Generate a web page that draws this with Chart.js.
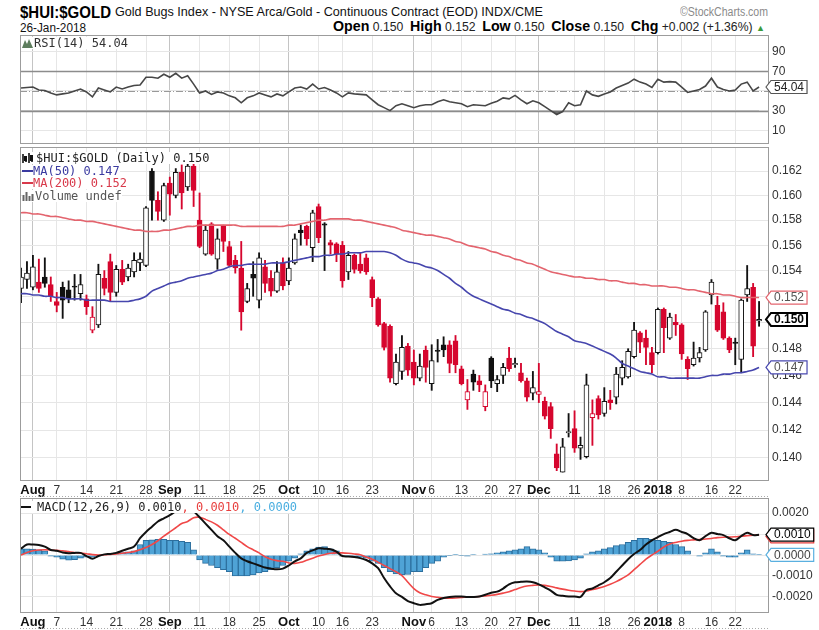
<!DOCTYPE html>
<html><head><meta charset="utf-8">
<script src="https://cdn.jsdelivr.net/npm/chart.js@4.4.1/dist/chart.umd.min.js"></script>
<style>
html,body{margin:0;padding:0;background:#fff;}
body{width:819px;height:630px;position:relative;overflow:hidden;font-family:"Liberation Sans",Arial,sans-serif;}
.a{position:absolute;white-space:nowrap;line-height:1;}
.fit{transform-origin:0 0;}
.mono{font-family:"DejaVu Sans Mono",monospace;font-size:12px;background:#fff;}
canvas{position:absolute;left:0;}
</style></head><body>
<script>
// ---------------- DATA ----------------
const tradingDays = [
 ['2017-07',[28,31]],
 ['2017-08',[1,2,3,4,7,8,9,10,11,14,15,16,17,18,21,22,23,24,25,28,29,30,31]],
 ['2017-09',[1,5,6,7,8,11,12,13,14,15,18,19,20,21,22,25,26,27,28,29]],
 ['2017-10',[2,3,4,5,6,10,11,12,13,16,17,18,19,20,23,24,25,26,27,30,31]],
 ['2017-11',[1,2,3,6,7,8,9,10,13,14,15,16,17,20,21,22,24,27,28,29,30]],
 ['2017-12',[1,4,5,6,7,8,11,12,13,14,15,18,19,20,21,22,26,27,28,29]],
 ['2018-01',[2,3,4,5,8,9,10,11,12,16,17,18,19,22,23,24,25,26]]
];
const dates = tradingDays.flatMap(([m, ds]) => ds.map(d => m + '-' + String(d).padStart(2, '0')));

const xTickDates = ['2017-08-01','2017-08-07','2017-08-14','2017-08-21','2017-08-28','2017-09-01','2017-09-11','2017-09-18','2017-09-25','2017-10-02','2017-10-10','2017-10-16','2017-10-23','2017-11-01','2017-11-06','2017-11-13','2017-11-20','2017-11-27','2017-12-01','2017-12-11','2017-12-18','2017-12-26','2018-01-02','2018-01-08','2018-01-16','2018-01-22'];
const xTickLabels = ['Aug','7','14','21','28','Sep','11','18','25','Oct','10','16','23','Nov','6','13','20','27','Dec','11','18','26','2018','8','16','22'];
const xTickMonth = [1,0,0,0,0,1,0,0,0,1,0,0,0,1,0,0,0,0,1,0,0,0,1,0,0,0];

const open = [.1526,.1533,.1527,.1531,.1535,.1529,.1516,.1527,.1525,.1528,
 .1522,.1518,.1494,.1498,.1534,.1547,.1523,.1541,.1535,.1539,
 .1546,.1544,.1620,.1596,.1580,.1610,.1600,.1619,.1607,.1624,
 .1580,.1553,.1577,.1549,.1575,.1559,.1548,.1542,.1516,.1537,
 .1517,.1543,.1534,.1524,.1546,.1532,.1546,.1572,.1575,.1558,
 .1591,.1577,.1562,.1561,.1560,.1539,.1552,.1545,.1550,.1533,
 .1518,.1499,.1497,.1454,.1463,.1482,.1470,.1458,.1479,.1454,
 .1479,.1483,.1483,.1486,.1465,.1442,.1461,.1456,.1437,.1473,
 .1454,.1460,.1473,.1468,.1462,.1456,.1447,.1446,.1441,.1437,
 .1403,.1390,.1418,.1421,.1407,.1401,.1429,.1443,.1432,.1442,
 .1444,.1458,.1459,.1474,.1492,.1488,.1477,.1477,.1510,.1488,
 .1500,.1498,.1472,.1468,.1473,.1479,.1521,.1513,.1508,.1488,
 .1485,.1472,.1521,.1527,.1501];
const high = [.1542,.1547,.1552,.1549,.1550,.1535,.1523,.1531,.1532,.1537,
 .1537,.1521,.1512,.1545,.1540,.1553,.1544,.1548,.1545,.1554,
 .1554,.1591,.1622,.1603,.1610,.1615,.1622,.1625,.1626,.1627,
 .1602,.1576,.1578,.1573,.1576,.1563,.1552,.1563,.1530,.1547,
 .1554,.1548,.1540,.1547,.1550,.1550,.1569,.1576,.1576,.1588,
 .1593,.1578,.1564,.1562,.1563,.1555,.1553,.1554,.1553,.1535,
 .1519,.1500,.1498,.1476,.1490,.1484,.1479,.1476,.1482,.1483,
 .1487,.1489,.1486,.1490,.1467,.1457,.1464,.1460,.1453,.1474,
 .1460,.1469,.1481,.1473,.1469,.1458,.1463,.1469,.1444,.1440,
 .1410,.1414,.1432,.1434,.1415,.1461,.1442,.1445,.1451,.1449,
 .1466,.1471,.1480,.1500,.1493,.1494,.1481,.1511,.1511,.1507,
 .1506,.1499,.1474,.1485,.1481,.1509,.1533,.1520,.1515,.1489,
 .1488,.1518,.1544,.1530,.1516];
const low = [.1515,.1526,.1525,.1523,.1527,.1516,.1508,.1503,.1515,.1517,
 .1517,.1506,.1492,.1496,.1521,.1516,.1520,.1529,.1532,.1535,
 .1540,.1543,.1580,.1580,.1579,.1584,.1598,.1589,.1604,.1591,
 .1558,.1552,.1552,.1541,.1555,.1543,.1538,.1494,.1515,.1520,
 .1511,.1523,.1520,.1523,.1525,.1529,.1545,.1560,.1560,.1547,
 .1562,.1540,.1553,.1547,.1527,.1533,.1538,.1538,.1537,.1512,
 .1497,.1479,.1455,.1453,.1457,.1460,.1453,.1456,.1455,.1449,
 .1470,.1474,.1462,.1462,.1453,.1435,.1449,.1448,.1434,.1451,
 .1448,.1454,.1463,.1466,.1455,.1441,.1442,.1440,.1428,.1414,
 .1391,.1390,.1415,.1404,.1399,.1400,.1409,.1428,.1430,.1435,
 .1439,.1453,.1458,.1473,.1477,.1468,.1462,.1476,.1477,.1487,
 .1490,.1472,.1457,.1467,.1470,.1478,.1514,.1493,.1487,.1477,
 .1468,.1462,.1516,.1474,.1497];
const close = [.1535,.1538,.1543,.1526,.1530,.1520,.1513,.1517,.1518,.1527,
 .1529,.1512,.1504,.1537,.1526,.1523,.1541,.1531,.1542,.1548,
 .1549,.1590,.1596,.1587,.1608,.1601,.1619,.1602,.1624,.1604,
 .1559,.1572,.1553,.1565,.1563,.1544,.1542,.1508,.1526,.1534,
 .1550,.1530,.1524,.1539,.1528,.1542,.1565,.1570,.1565,.1586,
 .1566,.1576,.1560,.1553,.1532,.1552,.1541,.1540,.1539,.1519,
 .1498,.1481,.1458,.1470,.1481,.1464,.1458,.1467,.1466,.1471,
 .1478,.1479,.1469,.1468,.1454,.1448,.1455,.1453,.1448,.1456,
 .1457,.1466,.1465,.1469,.1456,.1444,.1451,.1448,.1430,.1421,
 .1393,.1408,.1419,.1407,.1409,.1453,.1432,.1431,.1441,.1440,
 .1461,.1466,.1478,.1494,.1485,.1481,.1468,.1510,.1496,.1504,
 .1498,.1476,.1465,.1473,.1477,.1508,.1531,.1494,.1488,.1479,
 .1484,.1517,.1526,.1482,.15022];
const ma50 = [.1522,.1522,.1521,.1521,.1520,.1520,.1519,.1519,.1518,.1518,
 .1518,.1517,.1517,.1517,.1517,.1516,.1516,.1516,.1516,.1517,
 .1518,.1520,.1524,.1526,.1528,.1530,.1531,.1532,.1534,.1535,
 .1536,.1537,.1538,.1540,.1541,.1543,.1544,.1544,.1545,.1545,
 .1545,.1545,.1546,.1546,.1546,.1547,.1548,.1549,.1550,.1551,
 .1551,.1552,.1552,.1553,.1553,.1554,.1554,.1554,.1555,.1555,
 .1555,.1555,.1554,.1552,.1549,.1547,.1546,.1545,.1543,.1542,
 .1540,.1537,.1534,.1530,.1527,.1523,.1520,.1518,.1516,.1514,
 .1512,.1510,.1509,.1507,.1506,.1504,.1503,.1501,.1499,.1496,
 .1493,.1491,.1489,.1486,.1485,.1484,.1482,.1480,.1478,.1476,
 .1473,.1469,.1467,.1465,.1463,.1462,.1461,.1459,.1459,.1458,
 .1458,.1458,.1458,.1458,.1458,.1459,.1460,.1460,.1461,.1461,
 .1462,.1462,.1463,.1464,.1466];
const ma200 = [.1586,.1586,.1585,.1585,.1584,.1583,.1583,.1582,.1581,.1580,
 .1580,.1579,.1579,.1578,.1577,.1576,.1575,.1574,.1573,.1572,
 .1572,.1571,.1571,.1571,.1572,.1572,.1573,.1574,.1575,.1575,
 .1576,.1576,.1576,.1576,.1576,.1576,.1576,.1575,.1575,.1575,
 .1575,.1575,.1575,.1575,.1575,.1576,.1576,.1577,.1578,.1579,
 .1580,.1580,.1581,.1581,.1581,.1581,.1580,.1580,.1579,.1578,
 .1577,.1576,.1575,.1574,.1572,.1571,.1570,.1569,.1568,.1568,
 .1567,.1566,.1565,.1563,.1562,.1560,.1559,.1558,.1557,.1555,
 .1554,.1552,.1551,.1549,.1548,.1546,.1545,.1543,.1541,.1539,
 .1538,.1537,.1536,.1535,.1535,.1534,.1534,.1533,.1533,.1532,
 .1532,.1531,.1530,.1530,.1529,.1529,.1528,.1528,.1528,.1527,
 .1527,.1526,.1525,.1525,.1524,.1523,.1522,.1522,.1521,.1521,
 .1520,.1519,.1519,.1519,.1519];
const rsi = [53,53.5,54,51,50.5,48,46,47,48,50,
 52,49,44,53,51,49,54,52,54,55.5,
 56,64,64,63,67,64,68,63,65.5,57,
 48,50,46.5,49,48,45,43,38,43,45,
 48,46,44,47,45,49,53,54,52,57,
 52,53.5,51,48,44,48,47,46.5,46,41,
 36,33,30,35,37,35,33,35,36,36,
 39,41,39,38,37,34,36,35.5,35,37.5,
 39.5,43,42,45.5,41,37,40,38,34,30,
 26,29,38,35,36,50,46,44.5,47,49,
 53,55.5,58,62,59,57,53.5,62,59,59.5,
 59,54,48.5,50,51.5,55,63,54,51.5,50,
 51,57,59,50,54.04];
const macd = [.0003,.0005,.0005,.00048,.0004,.00024,.0002,.00012,.00008,.0001,
 .0001,-.00005,-.00018,-.00005,.00003,.00005,.0001,.0002,.0003,.0004,
 .0008,.0011,.00135,.0016,.00175,.0019,.0021,.0023,.0024,.0021,
 .0018,.0015,.0012,.0009,.0007,.0004,.0001,-.00016,-.0003,-.0004,
 -.0005,-.0006,-.00065,-.00068,-.00065,-.0005,-.0003,-.00016,.0001,.00022,
 .00032,.0003,.00027,.00016,-.00005,-.00007,-.0001,-.00015,-.00024,-.0004,
 -.00063,-.0011,-.0015,-.00183,-.002,-.0022,-.0023,-.00238,-.00235,-.0023,
 -.00214,-.00205,-.002,-.00198,-.00198,-.002,-.002,-.00198,-.0019,-.0018,
 -.00175,-.0016,-.0014,-.0013,-.00128,-.00127,-.0013,-.0014,-.00155,-.0017,
 -.0019,-.00195,-.00198,-.00198,-.002,-.00167,-.0016,-.00145,-.0013,-.0011,
 -.0008,-.0005,-.0002,.00005,.00024,.0005,.0007,.00085,.001,.0011,
 .0012,.0011,.001,.0008,.0007,.0009,.00106,.001,.00095,.0008,
 .0007,.0009,.00106,.00095,.00097];
const signal = [0,.00012,.0002,.00024,.00025,.00024,.00022,.0002,.00016,.00012,
 .00009,.00006,.00002,0,.00001,.00003,.00005,.00008,.00012,.00016,
 .00025,.00036,.0005,.00068,.0009,.0011,.0013,.0015,.0016,.00178,
 .0018,.0017,.00158,.00142,.0012,.00098,.0008,.0006,.0004,.00025,
 .0001,-.00008,-.0002,-.00027,-.0003,-.00038,-.0004,-.00035,-.00025,-.00015,
 -.00005,.00002,.00008,.0001,.0001,.00008,.00005,.00001,-.0001,-.0002,
 -.00035,-.0005,-.00065,-.0008,-.00098,-.0013,-.0016,-.0018,-.0019,-.00198,
 -.00202,-.00205,-.00206,-.00205,-.00203,-.002,-.002,-.00198,-.00195,-.00192,
 -.00188,-.00182,-.00175,-.00165,-.00155,-.00148,-.00145,-.00143,-.00145,-.0015,
 -.00157,-.00163,-.00168,-.00172,-.00175,-.00172,-.00165,-.00158,-.0015,-.0014,
 -.00127,-.00112,-.00095,-.0007,-.00045,-.0002,0,.00018,.00038,.00052,
 .0006,.00066,.0007,.00072,.00074,.00076,.00079,.00083,.00085,.00086,
 .00087,.0009,.00092,.00094,.00096];
const hist = [.0003,.0003,.00028,.00025,.0002,-.00005,-.0001,-.0002,-.00025,-.00022,
 -.00015,-.0001,-.0001,-.00003,.00002,.00008,.0001,.00012,.00015,.0002,
 .0005,.0007,.00072,.00075,.00075,.0007,.0007,.00065,.0006,.00025,
 -.00024,-.0004,-.0005,-.0006,-.0007,-.0008,-.001,-.001,-.001,-.00095,
 -.00085,-.0008,-.0007,-.0006,-.0005,-.0003,-.00015,.00005,.0002,.0003,
 .00038,.0004,.0003,.0002,-.00005,-.00008,-.0001,-.0001,-.00015,-.0003,
 -.0004,-.0006,-.0008,-.0009,-.00095,-.00093,-.0008,-.0008,-.0006,-.0004,
 -.0003,-.0001,-.00002,.00003,-.00002,-.00005,.00002,0,.00004,.00006,
 .0001,.00015,.0002,.00025,.0003,.0004,.0003,.00025,.0001,-.0001,
 -.0003,-.0003,-.00028,-.00024,-.00015,.00005,.00015,.0002,.0003,.00035,
 .00045,.0005,.0006,.0007,.0008,.0008,.00075,.0007,.00065,.0006,
 .0005,.0004,.0002,0,-.00005,.0001,.0003,.00015,-.00005,-.0001,
 -.0001,.0001,.00025,.00005,.00001];

const rsiTicks = [10,30,50,70,90];
const rsiLevels = [70,30];
const rsiMid = 50;
const priceTicks = [0.140,0.142,0.144,0.146,0.148,0.150,0.152,0.154,0.156,0.158,0.160,0.162];
const macdTicks = [-0.002,-0.001,0,0.001,0.002];
</script>

<div class="a fit" data-w="91" style="left:20px;top:3px;font:bold 17px 'Liberation Sans Narrow','Liberation Sans',Arial;color:#000">$HUI:$GOLD</div>
<div class="a fit" data-w="428" style="left:115px;top:5px;font:12.5px 'Liberation Sans Narrow','Liberation Sans',Arial;color:#111">Gold Bugs Index - NYSE Arca/Gold - Continuous Contract (EOD) INDX/CME</div>
<div class="a fit" data-w="88" style="left:680px;top:5px;font:12px 'Liberation Sans',Arial;color:#8a8a8a">©StockCharts.com</div>
<div class="a fit" data-w="66" style="left:20px;top:21px;font:12.5px 'Liberation Sans Narrow','Liberation Sans',Arial;color:#111">26-Jan-2018</div>
<div class="a fit" data-w="432" style="left:333px;top:20px;font:12px 'Liberation Sans Narrow','Liberation Sans',Arial;color:#222;line-height:13px"><b style="font-size:14px;color:#000">Open</b> 0.150 &nbsp;<b style="font-size:14px;color:#000">High</b> 0.152 &nbsp;<b style="font-size:14px;color:#000">Low</b> 0.150 &nbsp;<b style="font-size:14px;color:#000">Close</b> 0.150 &nbsp;<b style="font-size:14px;color:#000">Chg</b> +0.002 (+1.36%) <span style="color:#3a9a3a;font-size:9px">▲</span></div>

<canvas id="cRsi" width="819" height="110" style="top:34px;width:819px;height:110px"></canvas>
<canvas id="cPx" width="819" height="352" style="top:145px;width:819px;height:352px"></canvas>
<canvas id="cMacd" width="819" height="133" style="top:497px;width:819px;height:133px"></canvas>

<div class="a mono" style="left:22px;top:37px;color:#333"><svg width="12" height="10" style="vertical-align:-1px"><path d="M0 10 L3 2 L5 6 L7 1 L11 10 Z" fill="#5d7d5d"/></svg>RSI(14) 54.04</div>
<div class="a mono" style="left:22px;top:152px;color:#222"><svg width="14" height="10" style="vertical-align:-1px"><path d="M1 1v9M4 3v6M7 0v10M10 2v7" stroke="#111" stroke-width="1.6"/><rect x="2" y="3" width="3" height="5" fill="#111"/><rect x="8" y="2" width="3" height="6" fill="#111"/></svg>$HUI:$GOLD (Daily) 0.150</div>
<div class="a mono" style="left:22px;top:164.7px;color:#3a3aa0"><span style="display:inline-block;width:11px;height:2px;background:#3a3aa0;vertical-align:3px"></span>MA(50) 0.147</div>
<div class="a mono" style="left:22px;top:177.3px;color:#d8394a"><span style="display:inline-block;width:11px;height:2px;background:#d8394a;vertical-align:3px"></span>MA(200) 0.152</div>
<div class="a mono" style="left:22px;top:190px;color:#555"><svg width="13" height="10" style="vertical-align:-1px"><path d="M1.5 10V4M4.5 10V1M7.5 10V5M10.5 10V3" stroke="#666" stroke-width="2"/></svg>Volume undef</div>
<div class="a mono" style="left:21px;top:500.5px;color:#222"><span style="display:inline-block;width:10px;height:2px;background:#111;vertical-align:3px;margin-right:6px"></span>MACD(12,26,9) 0.0010<span style="color:#e8403f">, 0.0010</span><span style="color:#4aaee0">, 0.0000</span></div>
<div id="err" class="a" style="left:300px;top:300px;color:red;font-size:20px"></div>

<script>
// fit header text widths
document.querySelectorAll('.fit').forEach(el => {
  const w = el.getBoundingClientRect().width;
  const t = +el.dataset.w;
  if (w > 0) el.style.transform = 'scaleX(' + (t / w) + ')';
});

const N = dates.length;
const lens = [open, high, low, close, ma50, ma200, rsi, macd, signal, hist].map(a => a.length);
if (lens.some(l => l !== N)) document.getElementById('err').textContent = 'LEN ' + N + ' ' + lens.join(',');

const xTickIdx = xTickDates.map(d => dates.indexOf(d));
const last = N - 1;
const RED = '#d6062e', BLACK = '#111111';
const candleColor = i => (i > 0 && close[i] < close[i - 1]) ? RED : BLACK;
const isHollow = i => close[i] >= open[i];

Chart.defaults.font.family = '"Liberation Sans", Arial, sans-serif';
Chart.defaults.font.size = 12;
Chart.defaults.color = '#333';

const deco = {};
function drawTag(ctx, a, y, t) {
  ctx.save();
  ctx.font = (t.bold ? 'bold ' : '') + '12px "Liberation Sans", Arial';
  const tw = ctx.measureText(t.text).width;
  const x0 = a.right - 2, x1 = a.right + 3, h = 13, w = tw + 6;
  ctx.beginPath();
  ctx.moveTo(x0, y); ctx.lineTo(x1, y - h / 2); ctx.lineTo(x1 + w, y - h / 2);
  ctx.lineTo(x1 + w, y + h / 2); ctx.lineTo(x1, y + h / 2); ctx.closePath();
  ctx.fillStyle = '#fff'; ctx.fill();
  ctx.lineWidth = t.lw || 1.2; ctx.strokeStyle = t.border; ctx.stroke();
  ctx.fillStyle = t.color; ctx.textBaseline = 'middle'; ctx.textAlign = 'left';
  ctx.fillText(t.text, x1 + 3, y + 0.5);
  ctx.restore();
}
Chart.register({
  id: 'deco',
  beforeDatasetsDraw(chart) {
    const o = deco[chart.canvas.id] || {}; const ctx = chart.ctx, a = chart.chartArea, y = chart.scales.y;
    (o.levels || []).forEach(l => {
      ctx.save(); ctx.strokeStyle = l.color; ctx.lineWidth = l.width; ctx.setLineDash(l.dash || []);
      const py = Math.round(y.getPixelForValue(l.v)) + 0.5;
      ctx.beginPath(); ctx.moveTo(a.left, py); ctx.lineTo(a.right, py); ctx.stroke(); ctx.restore();
    });
  },
  afterDraw(chart) {
    const o = deco[chart.canvas.id] || {}; const ctx = chart.ctx, a = chart.chartArea, y = chart.scales.y;
    ctx.save(); ctx.strokeStyle = '#9c9c9c'; ctx.lineWidth = 1;
    ctx.strokeRect(Math.round(a.left) + 0.5, Math.round(a.top) + 0.5, Math.round(a.right - a.left), Math.round(a.bottom - a.top));
    if (o.dotted !== undefined) {
      ctx.setLineDash([1, 2]); ctx.strokeStyle = '#aaa';
      ctx.beginPath(); ctx.moveTo(a.left, o.dotted + 0.5); ctx.lineTo(a.right + 2, o.dotted + 0.5); ctx.stroke();
    }
    ctx.restore();
    (o.tags || []).forEach(t => drawTag(ctx, a, y.getPixelForValue(t.v) + (t.dy || 0), t));
  }
});

function xScale(showLabels, h) {
  return {
    type: 'linear', min: -0.17, max: 125.5, bounds: 'data', offset: false,
    afterBuildTicks: s => { s.ticks = xTickIdx.map(v => ({ value: v })); },
    afterFit: s => { s.height = h; s.paddingLeft = 0; s.paddingRight = 0; s.paddingTop = 0; s.paddingBottom = 0; },
    grid: { offset: false, drawTicks: false, color: c => xTickMonth[c.index] ? '#c4c4c4' : '#e6e6e6', lineWidth: 1 },
    border: { display: false },
    ticks: {
      display: showLabels, autoSkip: false, maxRotation: 0, padding: 3,
      callback: (v, i) => xTickLabels[i],
      color: c => xTickMonth[c.index] ? '#111' : '#333',
      font: c => xTickMonth[c.index] ? { size: 13, weight: 'bold' } : { size: 12, weight: 'normal' }
    }
  };
}
function yScale(extra) {
  return Object.assign({
    position: 'right', bounds: 'data',
    afterFit: s => { s.width = 51; s.paddingTop = 0; s.paddingBottom = 0; s.paddingLeft = 0; s.paddingRight = 0; },
    grid: { color: '#e6e6e6', drawTicks: false },
    border: { color: '#9c9c9c' },
    ticks: { padding: 4, color: '#333', font: { size: 12 } }
  }, extra);
}
const baseOpts = (pt, pb) => ({
  responsive: false, animation: false, events: [], devicePixelRatio: 1,
  layout: { padding: { left: 20, right: 0, top: pt, bottom: pb } },
  plugins: { legend: { display: false }, tooltip: { enabled: false } }
});

// RSI
deco.cRsi = {
  levels: [
    { v: rsiLevels[0], color: '#8c8c8c', width: 1.3 },
    { v: rsiLevels[1], color: '#8c8c8c', width: 1.3 },
    { v: rsiMid, color: '#999', width: 1, dash: [7, 2, 1, 2] }
  ],
  tags: [{ v: rsi[last], text: rsi[last].toFixed(2), border: '#555', color: '#222' }]
};
new Chart(document.getElementById('cRsi'), {
  type: 'line',
  data: { datasets: [{
    data: rsi.map((v, i) => ({ x: i, y: v })), borderColor: '#474747', borderWidth: 1.6,
    pointRadius: 0, tension: 0,
    fill: { target: { value: rsiLevels[1] }, above: 'rgba(0,0,0,0)', below: '#6d6d6d' }
  }] },
  options: Object.assign(baseOpts(1, 1), {
    scales: {
      x: xScale(false, 0),
      y: yScale({ min: -3, max: 107,
        afterBuildTicks: s => { s.ticks = rsiTicks.map(v => ({ value: v })); },
        ticks: { padding: 4, color: '#333', font: { size: 12 }, callback: v => String(v) } })
    }
  })
});

// PRICE
deco.cPx = {
  dotted: 351,
  tags: [
    { v: ma200[last], text: ma200[last].toFixed(3), border: '#e3646e', color: '#555' },
    { v: close[last], text: close[last].toFixed(3), border: '#000', color: '#000', bold: true, lw: 2 },
    { v: ma50[last], text: ma50[last].toFixed(3), border: '#4848b0', color: '#555' }
  ]
};
new Chart(document.getElementById('cPx'), {
  type: 'bar',
  data: { datasets: [
    { type: 'line', data: ma50.map((v, i) => ({ x: i, y: v })), borderColor: '#4646ad', borderWidth: 1.6, pointRadius: 0, tension: 0.3, order: 0 },
    { type: 'line', data: ma200.map((v, i) => ({ x: i, y: v })), borderColor: '#e3646e', borderWidth: 1.6, pointRadius: 0, tension: 0.3, order: 0 },
    { type: 'bar', data: open.map((o, i) => ({ x: i, y: [o, close[i]] })),
      backgroundColor: c => isHollow(c.dataIndex) ? '#ffffff' : candleColor(c.dataIndex),
      borderColor: c => candleColor(c.dataIndex), borderWidth: 1, borderSkipped: false,
      barThickness: 5, grouped: false, order: 1 },
    { type: 'bar', data: low.map((l, i) => ({ x: i, y: [l, high[i]] })),
      backgroundColor: c => candleColor(c.dataIndex), borderWidth: 0,
      barThickness: 1.2, grouped: false, order: 2 }
  ] },
  options: Object.assign(baseOpts(2, 0), {
    scales: {
      x: xScale(true, 17),
      y: yScale({ type: 'logarithmic', min: 0.13844, max: 0.16399,
        afterBuildTicks: s => { s.ticks = priceTicks.map(v => ({ value: v })); },
        ticks: { padding: 4, color: '#333', font: { size: 12 }, callback: v => Number(v).toFixed(3) } })
    }
  })
});

// MACD
deco.cMacd = {
  dotted: 131,
  tags: [
    { v: signal[last], text: signal[last].toFixed(4), border: '#e8403f', color: '#000', dy: 1.5 },
    { v: macd[last], text: macd[last].toFixed(4), border: '#000', color: '#000' },
    { v: hist[last], text: hist[last].toFixed(4), border: '#5ab0e0', color: '#444' }
  ]
};
new Chart(document.getElementById('cMacd'), {
  type: 'bar',
  data: { datasets: [
    { type: 'line', data: macd.map((v, i) => ({ x: i, y: v })), borderColor: '#111', borderWidth: 2, pointRadius: 0, tension: 0.3, order: 0 },
    { type: 'line', data: signal.map((v, i) => ({ x: i, y: v })), borderColor: '#f04848', borderWidth: 1.6, pointRadius: 0, tension: 0.3, order: 0 },
    { type: 'bar', data: hist.map((v, i) => ({ x: i, y: v })), backgroundColor: '#4fa3d6', borderColor: '#2c6f9e',
      borderWidth: 1, barPercentage: 1, categoryPercentage: 1, grouped: false, order: 1 }
  ] },
  options: Object.assign(baseOpts(1, 0), {
    scales: {
      x: xScale(true, 18),
      y: yScale({ min: -0.00272, max: 0.00272,
        afterBuildTicks: s => { s.ticks = macdTicks.map(v => ({ value: v })); },
        ticks: { padding: 4, color: '#333', font: { size: 12 }, callback: v => Number(v).toFixed(4) } })
    }
  })
});
</script>
</body></html>
